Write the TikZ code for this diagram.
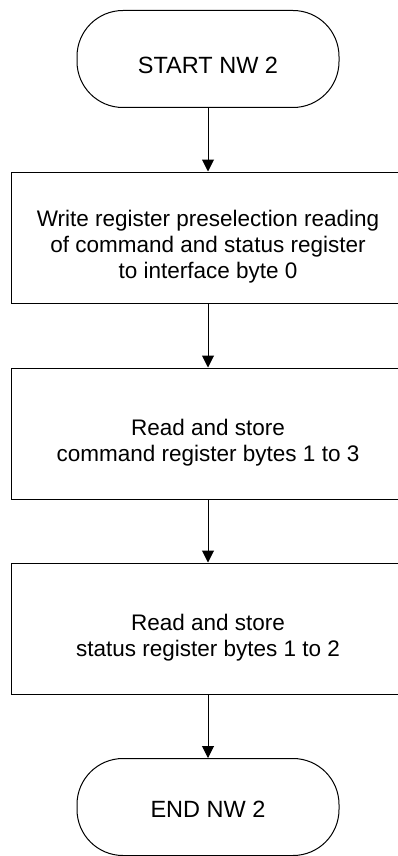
\documentclass[tikz,border=0pt]{standalone}
\usepackage{fontspec}
\setmainfont{Liberation Sans}
\usetikzlibrary{arrows.meta}

\begin{document}
\begin{tikzpicture}[
  x=1pt, y=-1pt,
  terminal/.style={draw, line width=1pt, rounded corners=46pt,
    minimum width=262pt, minimum height=97pt, inner sep=0pt},
  stepbox/.style={draw, line width=1pt, minimum width=394pt,
    minimum height=131pt, inner sep=0pt},
  termtext/.style={font=\fontsize{23.5}{27}\selectfont},
  boxtext/.style={font=\fontsize{22.5}{26}\selectfont, align=center, yshift=-9pt},
  flow/.style={line width=1pt, -{Triangle[width=12pt,length=12pt]}},
]

%% page 398 x 856, boxes run past the right edge
\useasboundingbox (0,0) rectangle (398,856);
\clip (0,0) rectangle (398,856);

%% Terminals and process boxes
\node[terminal, label={[termtext, yshift=-6.5pt]center:START NW 2}]
  (start) at (208, 59) {};
\node[stepbox, label={[boxtext]center:{Write register preselection reading\\
  of command and status register\\to interface byte 0}}]
  (write) at (208, 237.5) {};
\node[stepbox, label={[boxtext]center:{Read and store\\
  command register bytes 1 to 3}}]
  (readcmd) at (208, 433.5) {};
\node[stepbox, label={[boxtext]center:{Read and store\\
  status register bytes 1 to 2}}]
  (readstat) at (208, 628.5) {};
\node[terminal, label={[termtext, yshift=-2pt]center:END NW 2}]
  (stop) at (208, 807) {};

%% Flow
\draw[flow] (start) -- (write);
\draw[flow] (write) -- (readcmd);
\draw[flow] (readcmd) -- (readstat);
\draw[flow] (readstat) -- (stop);

\end{tikzpicture}
\end{document}
